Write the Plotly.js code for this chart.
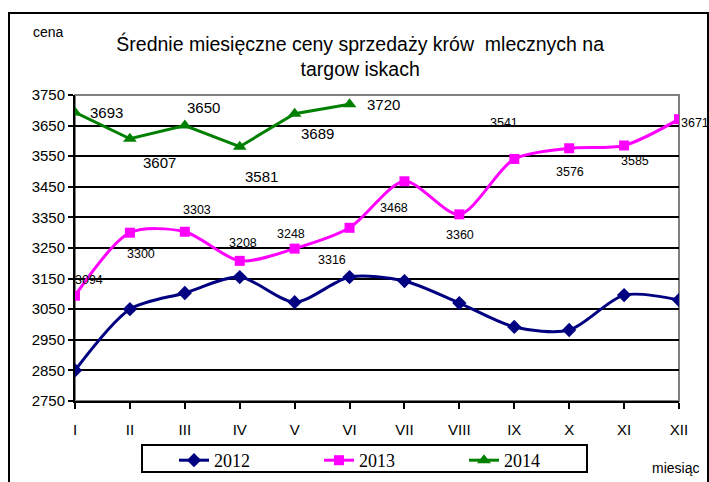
<!DOCTYPE html>
<html><head><meta charset="utf-8">
<script src="https://cdn.plot.ly/plotly-3.0.1.min.js"></script>
<style>html,body{margin:0;padding:0;background:#fff}#chart{width:709px;height:482px}</style>
</head><body><div id="chart"></div>
<script>
const months = ["I","II","III","IV","V","VI","VII","VIII","IX","X","XI","XII"];
const y2012 = [2850,3050,3103,3155,3073,3155,3142,3070,2992,2982,3096,3080];
const y2013 = [3094,3300,3303,3208,3248,3316,3468,3360,3541,3576,3585,3671];
const y2014 = [3693,3607,3650,3581,3689,3720];
const yTicks = [2750,2850,2950,3050,3150,3250,3350,3450,3550,3650,3750];

// label offsets (px) for data labels
const off2013 = [[14,16],[11,-21],[12,22],[3,18],[-4,15],[-18,-32],[-10,-27],[1,-21],[-10,36],[1,-24],[11,-16],[16,-4]];
const off2014 = [[31,0],[30,-24],[19,18],[22,-30],[23,-20],[34,0]];

const SANS = "'Liberation Sans', Arial, sans-serif";
const SERIF = "'Liberation Serif', 'Times New Roman', 'DejaVu Serif', serif";

const traces = [
  {x: months, y: y2012, name: "2012", type: "scatter", mode: "lines+markers",
   line: {color: "#000080", width: 3, shape: "spline", smoothing: 0.8},
   marker: {symbol: "diamond", size: 11, color: "#000080"}},
  {x: months, y: y2013, name: "2013", type: "scatter", mode: "lines+markers",
   line: {color: "#FF00FF", width: 3, shape: "spline", smoothing: 0.8},
   marker: {symbol: "square", size: 10, color: "#FF00FF"}},
  {x: months.slice(0, y2014.length), y: y2014, name: "2014", type: "scatter", mode: "lines+markers",
   line: {color: "#008000", width: 3},
   marker: {symbol: "triangle-up", size: 12, color: "#008000"}}
];

const annotations = [];
y2013.forEach((v, i) => annotations.push({x: months[i], y: v, text: String(v), showarrow: false,
  xshift: off2013[i][0], yshift: off2013[i][1], font: {family: SANS, size: 12.5, color: "#000"}}));
y2014.forEach((v, i) => annotations.push({x: months[i], y: v, text: String(v), showarrow: false,
  xshift: off2014[i][0], yshift: off2014[i][1], font: {family: SANS, size: 15, color: "#000"}}));
annotations.push({xref: "paper", yref: "paper", x: (31-75)/604, y: (401-32)/306, xanchor: "left", yanchor: "middle",
  text: "cena", showarrow: false, font: {family: SANS, size: 14, color: "#000"}});
annotations.push({xref: "paper", yref: "paper", x: (650-75)/604, y: (401-468)/306, xanchor: "left", yanchor: "middle",
  text: "miesiąc", showarrow: false, font: {family: SANS, size: 14, color: "#000"}});

const layout = {
  width: 709, height: 482,
  margin: {l: 75, r: 30, t: 95, b: 81, autoexpand: false},
  paper_bgcolor: "#fff", plot_bgcolor: "#fff",
  title: {text: "Średnie miesięczne ceny sprzedaży krów  mlecznych na<br>targow iskach",
    x: 0.508, xanchor: "center", y: 1 - 51/482, yanchor: "top",
    font: {family: SANS, size: 19.5, color: "#000"}},
  xaxis: {type: "category", range: [0, 11], showgrid: false, zeroline: false,
    showline: true, linecolor: "#000", linewidth: 2, ticks: "outside", ticklen: 6, tickwidth: 2, tickcolor: "#000",
    ticklabelstandoff: 8,
    tickfont: {family: SANS, size: 15, color: "#000"}},
  yaxis: {range: [2750, 3750], tickvals: yTicks, ticktext: yTicks.map(String), showgrid: true,
    gridcolor: "#000", gridwidth: 2, zeroline: false,
    showline: true, linecolor: "#000", linewidth: 2, ticks: "outside", ticklen: 5, tickwidth: 2, tickcolor: "#000",
    tickfont: {family: SANS, size: 15, color: "#000"}},
  showlegend: true,
  legend: {orientation: "h", x: (174-75)/604, y: (401-442)/306, xanchor: "left", yanchor: "top",
    bgcolor: "rgba(0,0,0,0)", borderwidth: 0, entrywidth: 100,
    font: {family: SERIF, size: 18, color: "#000"}},
  shapes: [
    {type: "rect", xref: "paper", yref: "paper", x0: 0, x1: 1, y0: 0, y1: 1, line: {color: "#808080", width: 2}, layer: "below"},
    {type: "rect", xref: "paper", yref: "paper", x0: (142-75)/604, x1: (587-75)/604, y0: (401-472)/306, y1: (401-445)/306,
     line: {color: "#000", width: 2}, fillcolor: "#fff", layer: "below"},
    {type: "rect", xref: "paper", yref: "paper", x0: (9-75)/604, x1: (708-75)/604, y0: (401-495)/306, y1: (401-13)/306,
     line: {color: "#000", width: 2}, fillcolor: "rgba(0,0,0,0)"}
  ],
  annotations: annotations
};

Plotly.newPlot("chart", traces, layout, {displayModeBar: false, staticPlot: true});
</script></body></html>
